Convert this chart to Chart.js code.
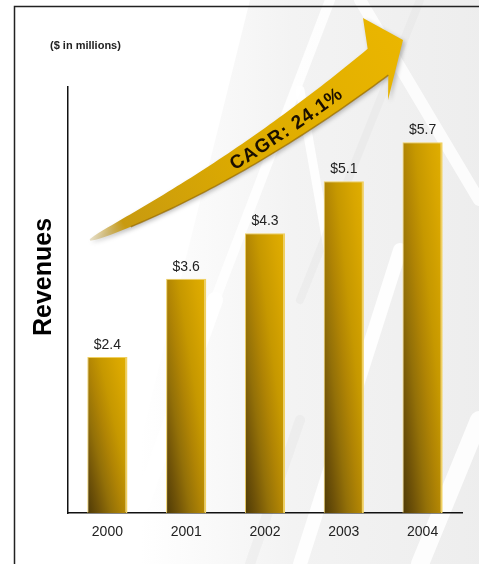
<!DOCTYPE html>
<html>
<head>
<meta charset="utf-8">
<title>Revenues</title>
<script src="https://cdn.jsdelivr.net/npm/chart.js@4.4.1/dist/chart.umd.min.js"></script>
<style>
  html, body { margin: 0; padding: 0; background: #fff; }
  #wrap { width: 479px; height: 564px; }
</style>
</head>
<body>
<div id="wrap"><canvas id="revenueChart" width="479" height="564"></canvas></div>
<script>
// Revenue by year ($ in millions)
const years = ["2000", "2001", "2002", "2003", "2004"];
const revenues = [2.4, 3.6, 4.3, 5.1, 5.7];
const yMax = 6.55;

const unitNote = "($ in millions)";
const axisTitle = "Revenues";
const cagrText = "CAGR: 24.1%";

const barPct = 0.51;

// bar fill: dark bronze on the lower left, bright gold towards the top right
function barFill(c) {
  const chart = c.chart;
  const xs = chart.scales.x, ys = chart.scales.y;
  if (!xs || !ys || !chart.chartArea) return "#c89800";
  const w = (xs.width / years.length) * barPct;
  const x0 = xs.getPixelForValue(c.dataIndex) - w / 2;
  const y0 = ys.getPixelForValue(0);
  const h = Math.max(20, y0 - ys.getPixelForValue(revenues[c.dataIndex]));
  const a = 1 / w, b = 0.9 / h;
  const k = 2 / (a * a + b * b);
  const g = chart.ctx.createLinearGradient(x0, y0, x0 + a * k, y0 - b * k);
  g.addColorStop(0, "#4e3a06");
  g.addColorStop(0.15, "#705308");
  g.addColorStop(0.3, "#937008");
  g.addColorStop(0.45, "#b08404");
  g.addColorStop(0.6, "#c69800");
  g.addColorStop(0.8, "#d8a600");
  g.addColorStop(1, "#e4b200");
  return g;
}

// page background with soft grey sweeps and the frame
const backdrop = {
  id: "backdrop",
  beforeDraw(chart) {
    const ctx = chart.ctx;
    const W = chart.width, H = chart.height;
    ctx.save();
    ctx.fillStyle = "#fff";
    ctx.fillRect(0, 0, W, H);

    const g = ctx.createLinearGradient(140, 0, W, 0);
    g.addColorStop(0, "rgba(225,225,225,0)");
    g.addColorStop(0.45, "rgba(225,225,225,0.4)");
    g.addColorStop(1, "rgba(220,220,220,0.5)");
    ctx.fillStyle = g;
    ctx.beginPath();
    ctx.moveTo(110, H);
    ctx.lineTo(W, H);
    ctx.lineTo(W, 0);
    ctx.lineTo(250, 0);
    ctx.closePath();
    ctx.fill();

    ctx.lineCap = "round";
    const streaks = [
      [[120, H], [215, 300], 16, "rgba(255,255,255,0.95)"],
      [[215, 300], [330, 0], 10, "rgba(255,255,255,0.85)"],
      [[300, H], [400, 250], 14, "rgba(255,255,255,0.9)"],
      [[330, 260], [300, 90], 9, "rgba(255,255,255,0.9)"],
      [[360, 0], [479, 200], 12, "rgba(255,255,255,0.8)"],
      [[420, H], [479, 420], 18, "rgba(255,255,255,0.85)"],
      [[250, H], [300, 420], 10, "rgba(215,215,215,0.2)"],
      [[300, 300], [420, 0], 8, "rgba(215,215,215,0.2)"]
    ];
    streaks.forEach(([p, q, lw, col]) => {
      ctx.strokeStyle = col;
      ctx.lineWidth = lw;
      ctx.beginPath();
      ctx.moveTo(p[0], p[1]);
      ctx.lineTo(q[0], q[1]);
      ctx.stroke();
    });

    ctx.strokeStyle = "#222";
    ctx.lineWidth = 1.5;
    ctx.strokeRect(14.5, 6.5, W + 20, H + 20);
    ctx.restore();
  }
};

function drawArrow(chart) {
  const ctx = chart.ctx, ca = chart.chartArea;
  const p = (dx, dy) => [ca.left + dx, ca.top + dy];
  const P0 = p(22, 153), P1 = p(166, 88), P2 = p(310, -25);
  const tip = p(335, -47), barbA = p(295, -69), barbC = p(320, 13);

  const bez = t => {
    const u = 1 - t;
    return [u * u * P0[0] + 2 * u * t * P1[0] + t * t * P2[0],
            u * u * P0[1] + 2 * u * t * P1[1] + t * t * P2[1]];
  };
  const tan = t => {
    const u = 1 - t;
    const dx = 2 * u * (P1[0] - P0[0]) + 2 * t * (P2[0] - P1[0]);
    const dy = 2 * u * (P1[1] - P0[1]) + 2 * t * (P2[1] - P1[1]);
    const l = Math.hypot(dx, dy);
    return [dx / l, dy / l];
  };
  const width = t => 1.5 + 32 * Math.pow(t, 0.6);

  const upper = [], lower = [];
  const N = 60;
  for (let i = 0; i <= N; i++) {
    const t = i / N;
    const c = bez(t), d = tan(t), hw = width(t) / 2;
    const n = [-d[1], d[0]];
    upper.push([c[0] - n[0] * hw, c[1] - n[1] * hw]);
    lower.push([c[0] + n[0] * hw, c[1] + n[1] * hw]);
  }

  ctx.save();
  const fill = ctx.createLinearGradient(P0[0], P0[1], tip[0], tip[1]);
  fill.addColorStop(0, "rgba(200,180,120,0.4)");
  fill.addColorStop(0.1, "#c89a10");
  fill.addColorStop(0.45, "#dcaa00");
  fill.addColorStop(1, "#eab600");
  ctx.fillStyle = fill;
  ctx.shadowColor = "rgba(0,0,0,0.25)";
  ctx.shadowBlur = 4;
  ctx.shadowOffsetX = 2;
  ctx.shadowOffsetY = 2;
  ctx.beginPath();
  ctx.moveTo(upper[0][0], upper[0][1]);
  upper.forEach(q => ctx.lineTo(q[0], q[1]));
  ctx.lineTo(barbA[0], barbA[1]);
  ctx.lineTo(tip[0], tip[1]);
  ctx.lineTo(barbC[0], barbC[1]);
  for (let i = lower.length - 1; i >= 0; i--) ctx.lineTo(lower[i][0], lower[i][1]);
  ctx.closePath();
  ctx.fill();
  ctx.restore();

  // darker underside of the shaft
  ctx.save();
  ctx.strokeStyle = "rgba(150,105,0,0.7)";
  ctx.lineWidth = 1.5;
  ctx.beginPath();
  for (let i = 8; i < lower.length; i++) {
    const q = lower[i];
    if (i === 8) ctx.moveTo(q[0], q[1]); else ctx.lineTo(q[0], q[1]);
  }
  ctx.stroke();
  ctx.restore();

  // CAGR label following the curve
  const table = [];
  let acc = 0, prev = bez(0);
  for (let i = 0; i <= 400; i++) {
    const t = i / 400, q = bez(t);
    acc += Math.hypot(q[0] - prev[0], q[1] - prev[1]);
    prev = q;
    table.push([t, acc]);
  }
  const tAt = s => {
    for (const [t, len] of table) if (len >= s) return t;
    return 1;
  };
  const sAt = t => table[Math.round(t * 400)][1];

  ctx.save();
  ctx.font = "bold 19px Arial, 'Liberation Sans', sans-serif";
  ctx.fillStyle = "#1a0f00";
  ctx.textAlign = "center";
  ctx.textBaseline = "middle";
  const spacing = 1;
  const chars = cagrText.split("");
  const widths = chars.map(ch => ctx.measureText(ch).width);
  const total = widths.reduce((s, w) => s + w, 0) + spacing * (chars.length - 1);
  let s = sAt(0.68) - total / 2;
  chars.forEach((ch, i) => {
    const mid = s + widths[i] / 2;
    const t = tAt(mid);
    const c = bez(t), d = tan(t);
    ctx.save();
    ctx.translate(c[0] - d[1] * 1.5, c[1] + d[0] * 1.5);
    ctx.rotate(Math.atan2(d[1], d[0]));
    ctx.fillText(ch, 0, 0);
    ctx.restore();
    s += widths[i] + spacing;
  });
  ctx.restore();
}

// value labels, unit note, axis title and the growth arrow
const annotations = {
  id: "annotations",
  afterDatasetsDraw(chart) {
    const ctx = chart.ctx;
    const meta = chart.getDatasetMeta(0);
    ctx.save();
    ctx.font = "14px Arial, 'Liberation Sans', sans-serif";
    ctx.fillStyle = "#222";
    ctx.textAlign = "center";
    ctx.textBaseline = "bottom";
    meta.data.forEach((bar, i) => {
      ctx.fillText("$" + revenues[i].toFixed(1), bar.x, bar.y - 5);
    });

    ctx.font = "bold 11px Arial, 'Liberation Sans', sans-serif";
    ctx.textAlign = "left";
    ctx.textBaseline = "middle";
    ctx.fillText(unitNote, 50, 46);

    ctx.font = "bold 25px Arial, 'Liberation Sans', sans-serif";
    ctx.fillStyle = "#000";
    ctx.textAlign = "center";
    ctx.translate(44, 277);
    ctx.rotate(-Math.PI / 2);
    ctx.fillText(axisTitle, 0, 0);
    ctx.restore();

    drawArrow(chart);
  }
};

new Chart(document.getElementById("revenueChart"), {
  type: "bar",
  data: {
    labels: years,
    datasets: [{
      data: revenues,
      backgroundColor: barFill,
      borderColor: "#f0d060",
      borderWidth: { left: 1, right: 2, top: 1, bottom: 0 },
      borderSkipped: "start",
      barPercentage: barPct,
      categoryPercentage: 1
    }]
  },
  options: {
    responsive: false,
    animation: false,
    devicePixelRatio: 1,
    layout: { padding: { left: 0, top: 87, right: 17, bottom: 0 } },
    plugins: {
      legend: { display: false },
      tooltip: { enabled: false }
    },
    scales: {
      x: {
        grid: { display: false, drawTicks: false },
        border: { display: true, color: "#111", width: 1.5 },
        ticks: {
          color: "#222",
          padding: 11,
          font: { family: "Arial, 'Liberation Sans', sans-serif", size: 14 }
        },
        afterFit(scale) { scale.height = 51; }
      },
      y: {
        min: 0,
        max: yMax,
        grid: { display: false, drawTicks: false },
        border: { display: true, color: "#111", width: 1.5 },
        ticks: { display: false },
        afterFit(scale) { scale.width = 68; }
      }
    }
  },
  plugins: [backdrop, annotations]
});
</script>
</body>
</html>
